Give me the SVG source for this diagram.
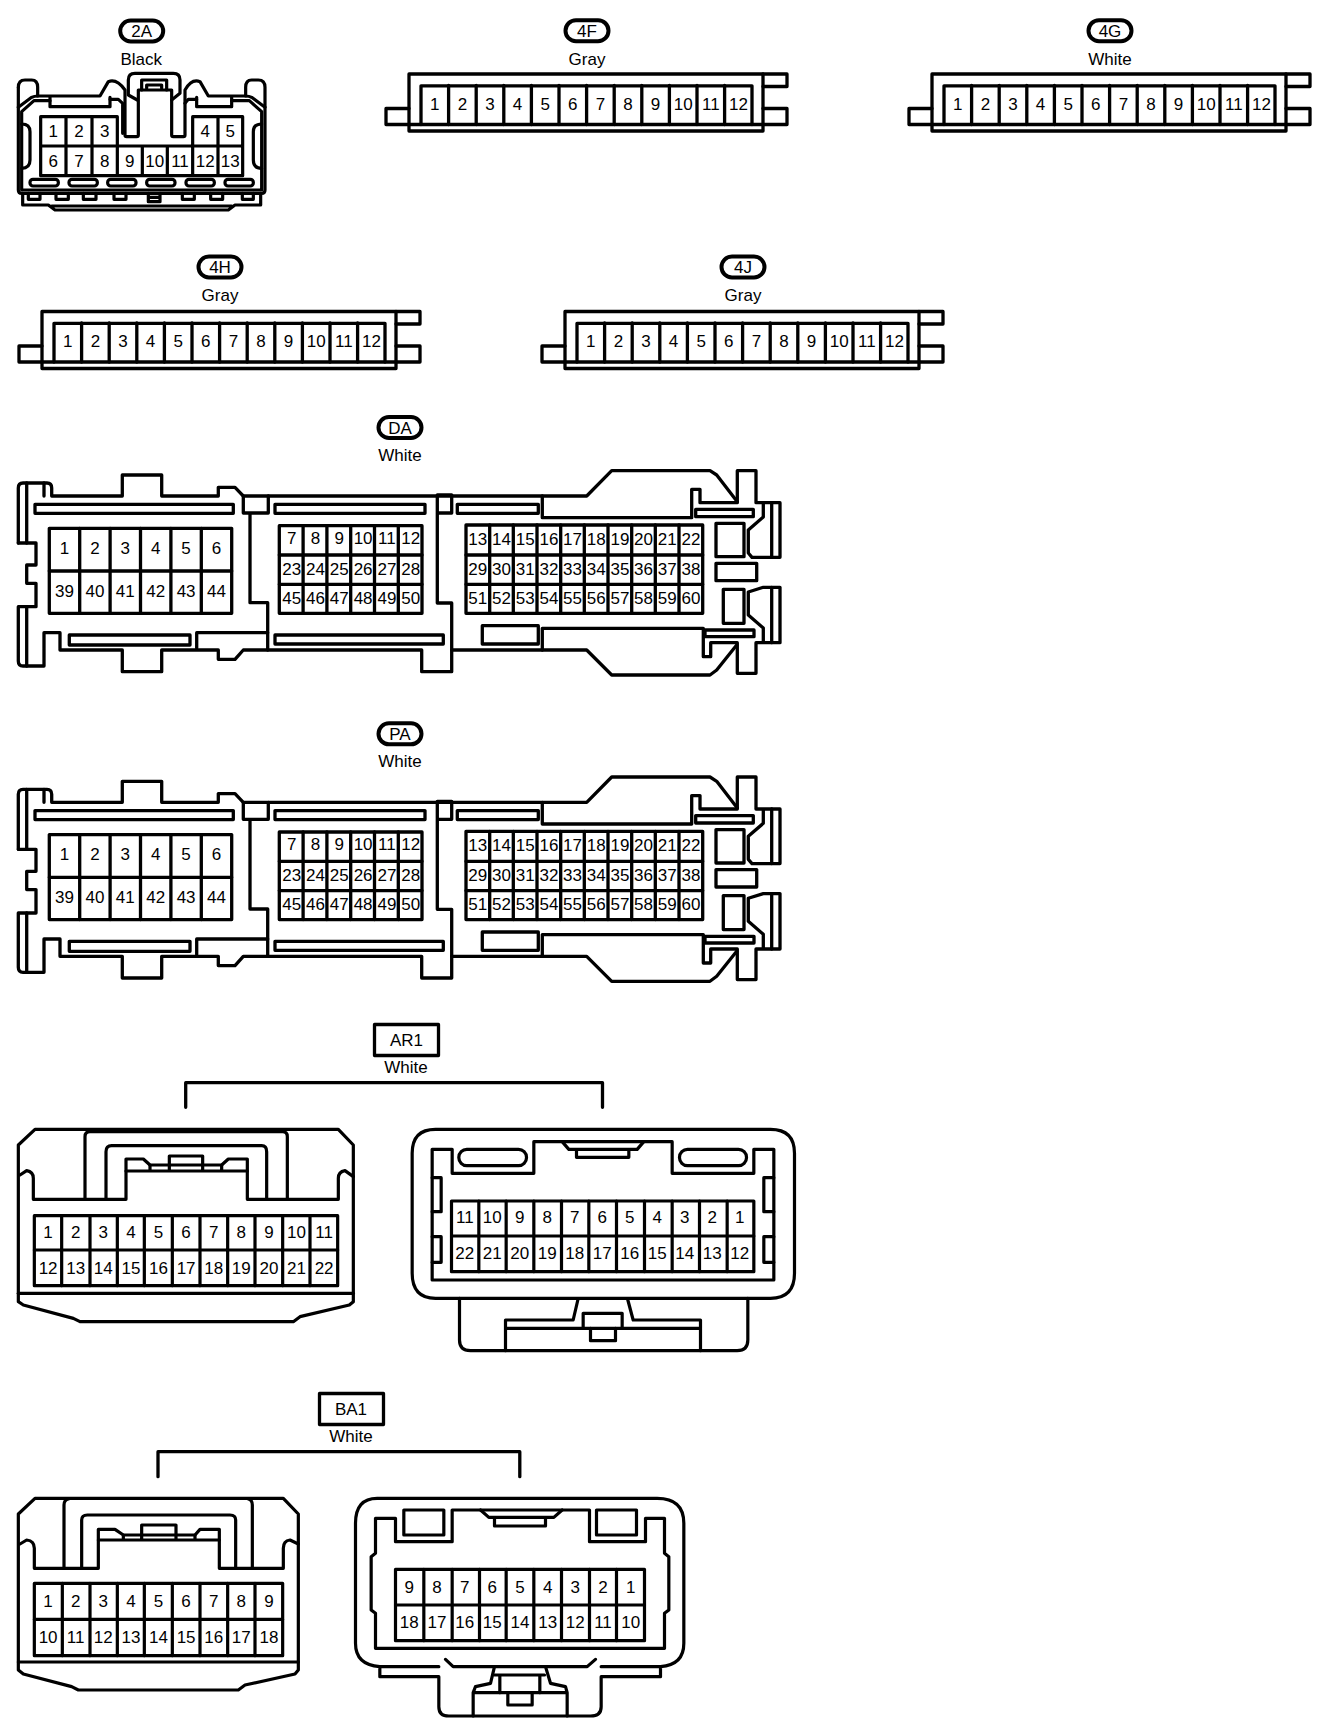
<svg xmlns="http://www.w3.org/2000/svg" xmlns:xlink="http://www.w3.org/1999/xlink" width="1328" height="1734" viewBox="0 0 1328 1734">
<style>
.s{fill:none;stroke:#000;stroke-width:3.3;stroke-linejoin:round;stroke-linecap:round}
.z{fill:none;stroke:#000;stroke-width:9.6;stroke-linejoin:round;stroke-linecap:round}
.p{fill:#fff;stroke:#000;stroke-width:4}
text{font-family:"Liberation Sans",Arial,sans-serif;fill:#000;text-anchor:middle}
.n text{font-size:17px}
.l{font-size:17px}
</style>
<defs>
<g id="pin12" class="s">
<path d="M42 311.5H396V368.5H42Z"/>
<path d="M54 362V323.3H385V362"/>
<path d="M42 362H396"/>
<path d="M42 346H19V362H42M396 311.5H420V324H396M396 346H420V362H396"/>
<path d="M81.6 323V362M109.2 323V362M136.8 323V362M164.4 323V362M192 323V362M219.6 323V362M247.2 323V362M274.8 323V362M302.4 323V362M330 323V362M357.6 323V362"/>
</g>
<g id="ecu" class="s">
<path d="M18.3 543V488Q18.3 483 23 483H47Q51.7 483 51.7 488V496H122.3V475H161.7V496H218.3V487.3H235L243.3 496H586.7L611.7 470.7H710L716.7 475L737.3 501.7"/>
<path d="M18.3 543H36V565H26.7V583.3H36V606.7H18.3V661Q18.3 666 23 666H44V632.7H60V650H122.3V671.7H161.7V650H218.3V659.3H235L243.3 650H421.7V671.7H451.7V603H437.3V513H451.7V495H437.3V513"/>
<path d="M26.7 483V543M26.7 606.7V666M44 483V496"/>
<path d="M451.7 650H586.7L611.7 675H710L716.7 670L736.7 645"/>
<rect x="35" y="504.3" width="198.3" height="9"/>
<rect x="69.3" y="635" width="120.7" height="10"/>
<path d="M243.3 496V513H268.3V496M250 513V602.7H267.7V650"/>
<path d="M267.7 632.7H196.7V648.3"/>
<rect x="275" y="504.3" width="150" height="9"/>
<rect x="275" y="635" width="168.3" height="9"/>
<rect x="457.3" y="504.3" width="81" height="9"/>
<rect x="482.3" y="625.7" width="56" height="18.3"/>
<path d="M542.3 496V517.7H691.7V489.3H700V502.7H737.3V470.7H756V502.7H780V557.3H752L748.3 553V530L763.3 517V502.7"/>
<path d="M542.3 650V628.3H703.3V656.7H710.7V642.7H737.3V673.3H756V642.7H780V587.3H763.3L748.3 592V615L763.3 628V642.7"/>
<path d="M771.7 502.7V557.3M771.7 587.3V642.7"/>
<path d="M695.7 509.3H753.3V516.7H695.7Z"/>
<path d="M705 630H754V636.7H705Z"/>
<rect x="716" y="523.3" width="28" height="33.4"/>
<rect x="716" y="563.3" width="40.7" height="17.4"/>
<rect x="723.3" y="589.3" width="20.7" height="34"/>
<rect x="49.3" y="528.3" width="182.4" height="85"/>
<path d="M49.3 571H231.7M79.7 528.3V613.3M110.1 528.3V613.3M140.5 528.3V613.3M170.9 528.3V613.3M201.3 528.3V613.3"/>
<rect x="279.3" y="525.7" width="142.7" height="87.6"/>
<path d="M279.3 555H422M279.3 584.3H422M303.1 525.7V613.3M326.9 525.7V613.3M350.7 525.7V613.3M374.5 525.7V613.3M398.3 525.7V613.3"/>
<rect x="466" y="525" width="236.7" height="88.3"/>
<path d="M466 555H702.7M466 584.3H702.7M489.7 525V613.3M513.3 525V613.3M537 525V613.3M560.7 525V613.3M584.3 525V613.3M608 525V613.3M631.7 525V613.3M655.3 525V613.3M679 525V613.3"/>
</g>
</defs>
<rect width="1328" height="1734" fill="#fff"/>

<g id="conn-2A">
<rect class="p" x="120.2" y="20.5" width="43" height="21" rx="10.5"/>
<text class="l" x="141.7" y="37">2A</text>
<text class="l" x="141.3" y="64.5">Black</text>
<g class="z" transform="scale(.33333)">
<path d="M55 262V570Q55 580 65 580H785Q795 580 795 570V262Q795 240 775 240H755Q737 240 737 262V288"/>
<path d="M55 262Q55 240 75 240H95Q113 240 113 262V288"/>
<path d="M55 322L95 292Q102 288 115 288H300L325 245Q350 235 375 270V405Q375 410 380 410H410Q415 410 415 405V270H515V405Q515 410 520 410H550Q555 410 555 405V270Q575 235 600 245L625 288H735Q748 288 755 292L795 322"/>
<path d="M150 302H102L65 335V570H785V335L748 302H695M330 298H355L368 310V400M590 298H565L555 310"/>
<path d="M385 285V240Q385 220 405 220H520Q540 220 540 240V280L515 300M385 285L412 300"/>
<path d="M425 270V240H500V270M440 265V255H485V265"/>
<path d="M150 292V320H330V292M590 292V320H695V292"/>
<path d="M65 372Q90 372 90 395V480Q90 505 65 505M785 372Q760 372 760 395V480Q760 505 785 505"/>
<path d="M68 580V615H145L165 630H685L705 615H782V580M155 618H695"/>
<path d="M85 580V598H120V580M168 580V598H205V580M250 580V598H288V580M342 580V598H378V580M445 580V605H480V580M445 592H480M547 580V598H583V580M632 580V598H668V580M727 580V598H760V580"/>
<rect x="90" y="538" width="85" height="20" rx="9"/><rect x="207" y="538" width="85" height="20" rx="9"/><rect x="323" y="538" width="85" height="20" rx="9"/><rect x="440" y="538" width="85" height="20" rx="9"/><rect x="558" y="538" width="85" height="20" rx="9"/><rect x="675" y="538" width="85" height="20" rx="9"/>
<path d="M122 438V350H352V527M122 438H352M198 350V527M276 350V527M578 527V350H728V527M578 438H728M654 350V527M122 438V527H728M427 438V527M502 438V527M352 438H578"/>
</g>
<g class="n">
<text x="53.3" y="137">1</text><text x="79" y="137">2</text><text x="104.7" y="137">3</text><text x="205.3" y="137">4</text><text x="230.3" y="137">5</text>
<text x="53.3" y="167">6</text><text x="79" y="167">7</text><text x="104.7" y="167">8</text><text x="129.8" y="167">9</text><text x="154.8" y="167">10</text><text x="180" y="167">11</text><text x="205.3" y="167">12</text><text x="230.3" y="167">13</text>
</g>
</g>

<g id="conn-4F" transform="translate(367,-237.5)">
<use xlink:href="#pin12" href="#pin12"/>
<rect class="p" x="198.5" y="257.7" width="43" height="21" rx="10.5"/>
<text class="l" x="220" y="274">4F</text>
<text class="l" x="220" y="302">Gray</text>
<g class="n"><text x="67.8" y="347.5">1</text><text x="95.4" y="347.5">2</text><text x="123" y="347.5">3</text><text x="150.6" y="347.5">4</text><text x="178.2" y="347.5">5</text><text x="205.8" y="347.5">6</text><text x="233.4" y="347.5">7</text><text x="261" y="347.5">8</text><text x="288.6" y="347.5">9</text><text x="316.2" y="347.5">10</text><text x="343.8" y="347.5">11</text><text x="371.4" y="347.5">12</text></g>
</g>

<g id="conn-4G" transform="translate(890,-237.5)">
<use xlink:href="#pin12" href="#pin12"/>
<rect class="p" x="198.5" y="257.7" width="43" height="21" rx="10.5"/>
<text class="l" x="220" y="274">4G</text>
<text class="l" x="220" y="302">White</text>
<g class="n"><text x="67.8" y="347.5">1</text><text x="95.4" y="347.5">2</text><text x="123" y="347.5">3</text><text x="150.6" y="347.5">4</text><text x="178.2" y="347.5">5</text><text x="205.8" y="347.5">6</text><text x="233.4" y="347.5">7</text><text x="261" y="347.5">8</text><text x="288.6" y="347.5">9</text><text x="316.2" y="347.5">10</text><text x="343.8" y="347.5">11</text><text x="371.4" y="347.5">12</text></g>
</g>

<g id="conn-4H">
<use xlink:href="#pin12" href="#pin12"/>
<rect class="p" x="198.5" y="256.5" width="43" height="21" rx="10.5"/>
<text class="l" x="220" y="273">4H</text>
<text class="l" x="220" y="301">Gray</text>
<g class="n"><text x="67.8" y="347">1</text><text x="95.4" y="347">2</text><text x="123" y="347">3</text><text x="150.6" y="347">4</text><text x="178.2" y="347">5</text><text x="205.8" y="347">6</text><text x="233.4" y="347">7</text><text x="261" y="347">8</text><text x="288.6" y="347">9</text><text x="316.2" y="347">10</text><text x="343.8" y="347">11</text><text x="371.4" y="347">12</text></g>
</g>

<g id="conn-4J" transform="translate(523,0)">
<use xlink:href="#pin12" href="#pin12"/>
<rect class="p" x="198.5" y="256.5" width="43" height="21" rx="10.5"/>
<text class="l" x="220" y="273">4J</text>
<text class="l" x="220" y="301">Gray</text>
<g class="n"><text x="67.8" y="347">1</text><text x="95.4" y="347">2</text><text x="123" y="347">3</text><text x="150.6" y="347">4</text><text x="178.2" y="347">5</text><text x="205.8" y="347">6</text><text x="233.4" y="347">7</text><text x="261" y="347">8</text><text x="288.6" y="347">9</text><text x="316.2" y="347">10</text><text x="343.8" y="347">11</text><text x="371.4" y="347">12</text></g>
</g>

<g id="conn-DA">
<use xlink:href="#ecu" href="#ecu"/>
<rect class="p" x="378.5" y="417" width="43" height="21" rx="10.5"/>
<text class="l" x="400" y="433.5">DA</text>
<text class="l" x="400" y="461">White</text>
<g class="n">
<text x="64.5" y="553.5">1</text><text x="94.9" y="553.5">2</text><text x="125.3" y="553.5">3</text><text x="155.7" y="553.5">4</text><text x="186.1" y="553.5">5</text><text x="216.5" y="553.5">6</text>
<text x="64.5" y="597">39</text><text x="94.9" y="597">40</text><text x="125.3" y="597">41</text><text x="155.7" y="597">42</text><text x="186.1" y="597">43</text><text x="216.5" y="597">44</text>
<text x="291.7" y="544">7</text><text x="315.5" y="544">8</text><text x="339.3" y="544">9</text><text x="363.1" y="544">10</text><text x="386.9" y="544">11</text><text x="410.7" y="544">12</text>
<text x="291.7" y="574.5">23</text><text x="315.5" y="574.5">24</text><text x="339.3" y="574.5">25</text><text x="363.1" y="574.5">26</text><text x="386.9" y="574.5">27</text><text x="410.7" y="574.5">28</text>
<text x="291.7" y="603.5">45</text><text x="315.5" y="603.5">46</text><text x="339.3" y="603.5">47</text><text x="363.1" y="603.5">48</text><text x="386.9" y="603.5">49</text><text x="410.7" y="603.5">50</text>
<text x="477.8" y="545">13</text><text x="501.5" y="545">14</text><text x="525.2" y="545">15</text><text x="548.9" y="545">16</text><text x="572.5" y="545">17</text><text x="596.2" y="545">18</text><text x="619.9" y="545">19</text><text x="643.5" y="545">20</text><text x="667.2" y="545">21</text><text x="690.9" y="545">22</text>
<text x="477.8" y="575">29</text><text x="501.5" y="575">30</text><text x="525.2" y="575">31</text><text x="548.9" y="575">32</text><text x="572.5" y="575">33</text><text x="596.2" y="575">34</text><text x="619.9" y="575">35</text><text x="643.5" y="575">36</text><text x="667.2" y="575">37</text><text x="690.9" y="575">38</text>
<text x="477.8" y="604">51</text><text x="501.5" y="604">52</text><text x="525.2" y="604">53</text><text x="548.9" y="604">54</text><text x="572.5" y="604">55</text><text x="596.2" y="604">56</text><text x="619.9" y="604">57</text><text x="643.5" y="604">58</text><text x="667.2" y="604">59</text><text x="690.9" y="604">60</text>
</g>
</g>

<g id="conn-PA" transform="translate(0,306.3)">
<use xlink:href="#ecu" href="#ecu"/>
<rect class="p" x="378.5" y="417" width="43" height="21" rx="10.5"/>
<text class="l" x="400" y="433.5">PA</text>
<text class="l" x="400" y="461">White</text>
<g class="n">
<text x="64.5" y="553.5">1</text><text x="94.9" y="553.5">2</text><text x="125.3" y="553.5">3</text><text x="155.7" y="553.5">4</text><text x="186.1" y="553.5">5</text><text x="216.5" y="553.5">6</text>
<text x="64.5" y="597">39</text><text x="94.9" y="597">40</text><text x="125.3" y="597">41</text><text x="155.7" y="597">42</text><text x="186.1" y="597">43</text><text x="216.5" y="597">44</text>
<text x="291.7" y="544">7</text><text x="315.5" y="544">8</text><text x="339.3" y="544">9</text><text x="363.1" y="544">10</text><text x="386.9" y="544">11</text><text x="410.7" y="544">12</text>
<text x="291.7" y="574.5">23</text><text x="315.5" y="574.5">24</text><text x="339.3" y="574.5">25</text><text x="363.1" y="574.5">26</text><text x="386.9" y="574.5">27</text><text x="410.7" y="574.5">28</text>
<text x="291.7" y="603.5">45</text><text x="315.5" y="603.5">46</text><text x="339.3" y="603.5">47</text><text x="363.1" y="603.5">48</text><text x="386.9" y="603.5">49</text><text x="410.7" y="603.5">50</text>
<text x="477.8" y="545">13</text><text x="501.5" y="545">14</text><text x="525.2" y="545">15</text><text x="548.9" y="545">16</text><text x="572.5" y="545">17</text><text x="596.2" y="545">18</text><text x="619.9" y="545">19</text><text x="643.5" y="545">20</text><text x="667.2" y="545">21</text><text x="690.9" y="545">22</text>
<text x="477.8" y="575">29</text><text x="501.5" y="575">30</text><text x="525.2" y="575">31</text><text x="548.9" y="575">32</text><text x="572.5" y="575">33</text><text x="596.2" y="575">34</text><text x="619.9" y="575">35</text><text x="643.5" y="575">36</text><text x="667.2" y="575">37</text><text x="690.9" y="575">38</text>
<text x="477.8" y="604">51</text><text x="501.5" y="604">52</text><text x="525.2" y="604">53</text><text x="548.9" y="604">54</text><text x="572.5" y="604">55</text><text x="596.2" y="604">56</text><text x="619.9" y="604">57</text><text x="643.5" y="604">58</text><text x="667.2" y="604">59</text><text x="690.9" y="604">60</text>
</g>
</g>

<g id="connectors" class="s">
<path d="M185.7 1107.3V1082.7H602.5V1107.3"/>
<path d="M158 1476.7V1451.7H519.8V1476.7"/>
</g>

<g id="label-AR1">
<rect class="s" x="374.5" y="1024.5" width="64" height="31"/>
<text class="l" x="406.5" y="1046">AR1</text>
<text class="l" x="406" y="1073">White</text>
</g>

<g id="conn-AR1-left">
<g class="z" transform="translate(0,1010) scale(.33333)">
<path d="M55 405L105 358H1015L1060 405V875L1048 885L900 920L880 935H240L220 925L70 885L55 875Z"/>
<path d="M55 850H1060"/>
<path d="M60 495L80 482Q100 485 100 505V568H378V447H430L450 465H665L685 447H742V568H1015V505Q1015 485 1035 482L1060 500"/>
<path d="M378 483H742M508 483V438H608V483M450 465V483M665 465V483"/>
<path d="M255 568V380Q255 365 270 365H848Q862 365 862 380V568"/>
<path d="M318 568V425Q318 407 335 407H785Q800 407 800 425V568"/>
<rect x="103" y="617" width="910" height="210"/>
<path d="M103 720H1013M185 617V827M270 617V827M352 617V827M433 617V827M517 617V827M600 617V827M683 617V827M765 617V827M848 617V827M930 617V827"/>
</g>
<g class="n">
<text x="48.1" y="1238">1</text><text x="75.7" y="1238">2</text><text x="103.3" y="1238">3</text><text x="130.9" y="1238">4</text><text x="158.5" y="1238">5</text><text x="186.1" y="1238">6</text><text x="213.7" y="1238">7</text><text x="241.3" y="1238">8</text><text x="268.9" y="1238">9</text><text x="296.5" y="1238">10</text><text x="324.1" y="1238">11</text>
<text x="48.1" y="1273.5">12</text><text x="75.7" y="1273.5">13</text><text x="103.3" y="1273.5">14</text><text x="130.9" y="1273.5">15</text><text x="158.5" y="1273.5">16</text><text x="186.1" y="1273.5">17</text><text x="213.7" y="1273.5">18</text><text x="241.3" y="1273.5">19</text><text x="268.9" y="1273.5">20</text><text x="296.5" y="1273.5">21</text><text x="324.1" y="1273.5">22</text>
</g>
</g>

<g id="conn-AR1-right">
<g class="z" transform="translate(390.5,1010) scale(.33333)">
<path d="M65 430Q65 358 135 358H1140Q1212 358 1212 430V790Q1212 865 1140 865H135Q65 865 65 790Z"/>
<path d="M125 418H185V490H430V395H845V490H1090V418H1150V810H125Z"/>
<rect x="205" y="418" width="203" height="49" rx="24"/>
<rect x="867" y="418" width="201" height="49" rx="24"/>
<path d="M515 395L535 418H558V442H715V418H740L760 395M535 418H740"/>
<path d="M125 503H152V605H125M125 680H152V757H125M1150 503H1120V605H1150M1150 680H1120V757H1150"/>
<rect x="183" y="573" width="907" height="212"/>
<path d="M183 678H1090M265 573V785M347 573V785M430 573V785M513 573V785M595 573V785M678 573V785M762 573V785M845 573V785M927 573V785M1010 573V785"/>
<path d="M207 865V990Q207 1022 240 1022H1040Q1072 1022 1072 990V865"/>
<path d="M345 1022V930H548L562 870M930 1022V930H728L712 870M345 955H930"/>
<path d="M578 955V910H695V955M600 955V992H675V955"/>
</g>
<g class="n">
<text x="464.8" y="1223">11</text><text x="492.3" y="1223">10</text><text x="519.8" y="1223">9</text><text x="547.3" y="1223">8</text><text x="574.8" y="1223">7</text><text x="602.3" y="1223">6</text><text x="629.8" y="1223">5</text><text x="657.3" y="1223">4</text><text x="684.8" y="1223">3</text><text x="712.3" y="1223">2</text><text x="739.8" y="1223">1</text>
<text x="464.8" y="1259">22</text><text x="492.3" y="1259">21</text><text x="519.8" y="1259">20</text><text x="547.3" y="1259">19</text><text x="574.8" y="1259">18</text><text x="602.3" y="1259">17</text><text x="629.8" y="1259">16</text><text x="657.3" y="1259">15</text><text x="684.8" y="1259">14</text><text x="712.3" y="1259">13</text><text x="739.8" y="1259">12</text>
</g>
</g>

<g id="label-BA1">
<rect class="s" x="319.5" y="1393.5" width="64" height="31"/>
<text class="l" x="351" y="1415">BA1</text>
<text class="l" x="351" y="1442">White</text>
</g>

<g id="conn-BA1-left">
<g class="z" transform="translate(0,1390) scale(.33333)">
<path d="M55 372L105 325H850L895 372V840L885 852L735 885L715 900H235L215 890L70 852L55 840Z"/>
<path d="M55 816H895"/>
<path d="M60 462L80 450Q103 452 103 475V535H295V418H345L370 435H585L600 418H658V535H850V475Q850 452 870 450L895 462"/>
<path d="M295 450H658M425 450V405H528V450M370 435V450M585 435V450"/>
<path d="M192 535V345Q192 330 205 327M757 535V345Q757 330 745 327"/>
<path d="M245 535V390Q245 375 262 375H690Q707 375 707 390V535"/>
<rect x="103" y="580" width="745" height="217"/>
<path d="M103 688H848M187 580V797M270 580V797M352 580V797M433 580V797M517 580V797M600 580V797M683 580V797M765 580V797"/>
</g>
<g class="n">
<text x="48.1" y="1607">1</text><text x="75.7" y="1607">2</text><text x="103.3" y="1607">3</text><text x="130.9" y="1607">4</text><text x="158.5" y="1607">5</text><text x="186.1" y="1607">6</text><text x="213.7" y="1607">7</text><text x="241.3" y="1607">8</text><text x="268.9" y="1607">9</text>
<text x="48.1" y="1643">10</text><text x="75.7" y="1643">11</text><text x="103.3" y="1643">12</text><text x="130.9" y="1643">13</text><text x="158.5" y="1643">14</text><text x="186.1" y="1643">15</text><text x="213.7" y="1643">16</text><text x="241.3" y="1643">17</text><text x="268.9" y="1643">18</text>
</g>
</g>

<g id="conn-BA1-right">
<g class="z" transform="translate(340.5,1390) scale(.33333)">
<path d="M295 860V950Q295 978 325 978H750Q782 978 782 950V860H960V830Q1030 825 1030 760V400Q1030 325 950 325H110Q45 325 45 400V760Q45 825 118 830V860H295"/>
<path d="M118 830H295M782 830H960"/>
<path d="M105 385H165V455H335V360H747V455H915V385H972V490L985 500V660L972 670V775H105V670L92 660V500L105 490Z"/>
<rect x="190" y="360" width="120" height="75"/>
<rect x="768" y="360" width="120" height="75"/>
<path d="M420 360L445 382H462V408H615V382H640L665 360M445 382H640"/>
<rect x="165" y="538" width="747" height="214"/>
<path d="M165 645H912M250 538V752M335 538V752M417 538V752M497 538V752M580 538V752M663 538V752M747 538V752M828 538V752"/>
<path d="M315 808L338 830H740L765 808"/>
<path d="M462 830L450 880L405 890L398 908V978M615 830L630 880L675 890L680 908V978M398 908H680"/>
<path d="M462 855H612M478 855V908M598 855V908M502 908V945H575V908"/>
</g>
<g class="n">
<text x="409.3" y="1593">9</text><text x="437" y="1593">8</text><text x="464.7" y="1593">7</text><text x="492.3" y="1593">6</text><text x="520" y="1593">5</text><text x="547.7" y="1593">4</text><text x="575.3" y="1593">3</text><text x="603" y="1593">2</text><text x="630.7" y="1593">1</text>
<text x="409.3" y="1628">18</text><text x="437" y="1628">17</text><text x="464.7" y="1628">16</text><text x="492.3" y="1628">15</text><text x="520" y="1628">14</text><text x="547.7" y="1628">13</text><text x="575.3" y="1628">12</text><text x="603" y="1628">11</text><text x="630.7" y="1628">10</text>
</g>
</g>
</svg>
